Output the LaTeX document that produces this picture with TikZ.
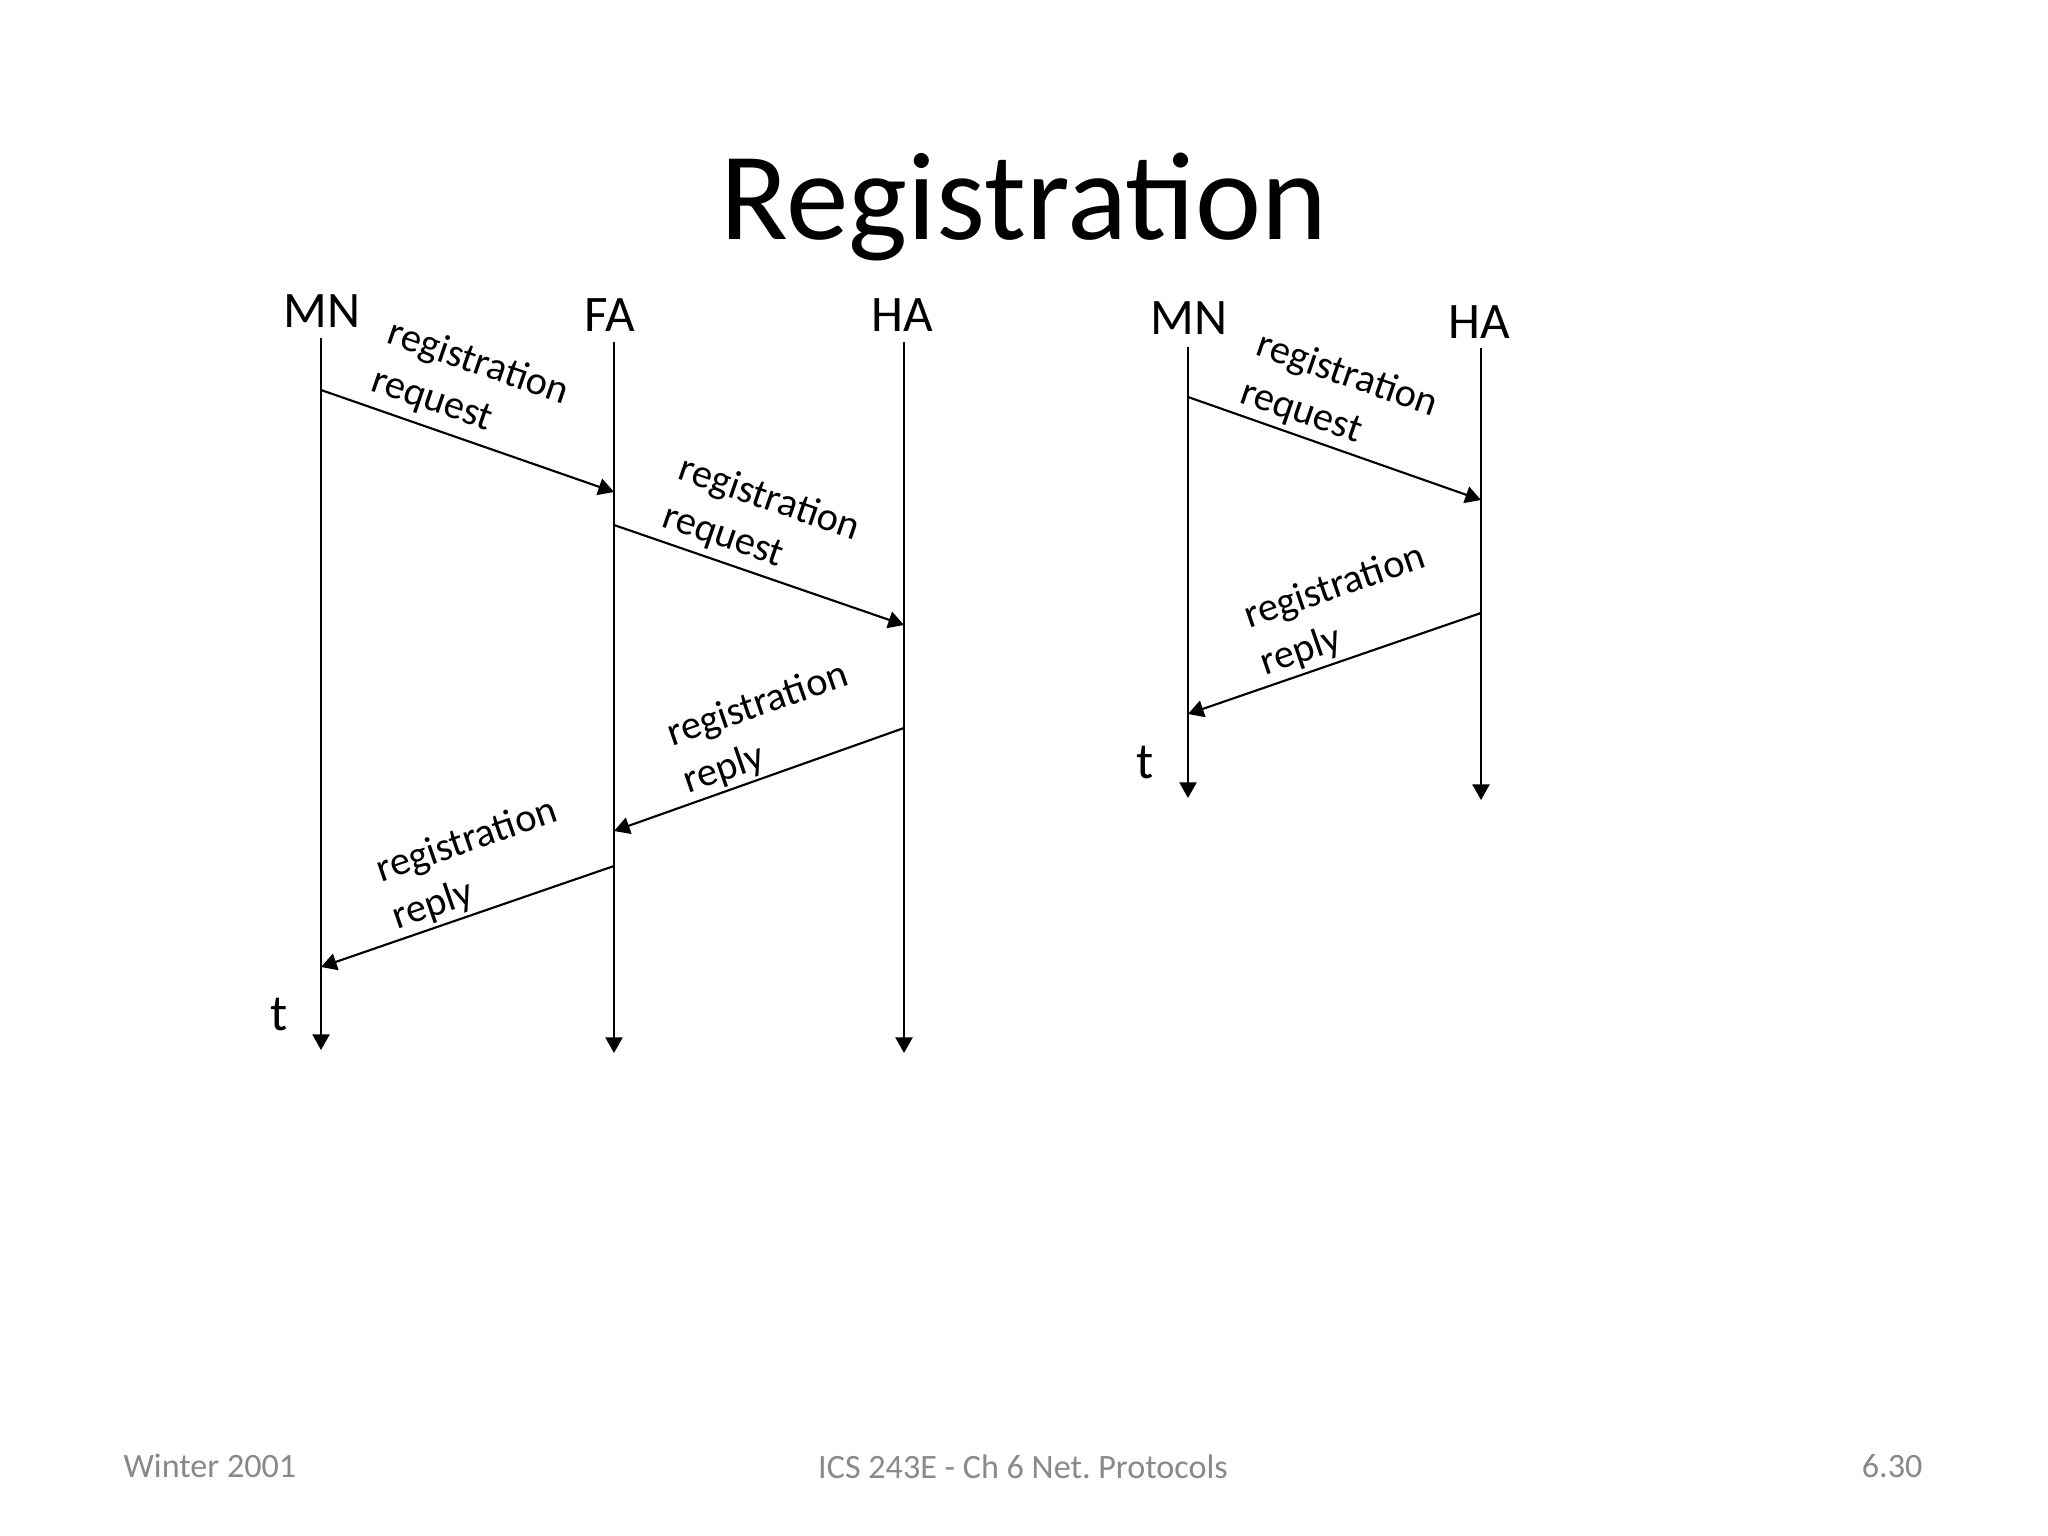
\documentclass[tikz,border=0pt]{standalone}
\usepackage{fontspec}
\setmainfont{Carlito}
\usetikzlibrary{arrows.meta}
\definecolor{footgray}{HTML}{898989}
\frenchspacing
\begin{document}
\begin{tikzpicture}[x=0.3515625pt,y=-0.3515625pt,
  tipped/.style={-{Triangle[width=6pt,length=5.5pt]}},
  life/.style={line width=0.75pt, tipped},
  msg/.style={line width=0.75pt, tipped},
  actor/.style={font=\fontsize{18}{22}\selectfont, inner sep=0pt, anchor=base},
  lbl/.style={font=\fontsize{14.2}{17.5}\selectfont, align=left, inner sep=0pt},
  foot/.style={font=\fontsize{12}{14}\selectfont, text=footgray, inner sep=0pt}]
\useasboundingbox[fill=white] (0,0) rectangle (2048,1536);

% title
\node[font=\fontsize{44}{50}\selectfont, anchor=base, inner sep=0pt] (title) at (1024,240) {Registration};

% actors
\node[actor] (mnA) at (322,328) {MN};
\node[actor] (faA) at (610,332) {FA};
\node[actor] (haA) at (902,332) {HA};
\node[actor] (mnB) at (1189,335) {MN};
\node[actor] (haB) at (1479,339) {HA};

% lifeline ends
\coordinate (mnAtop) at (321,338);  \coordinate (mnAbot) at (321,1050);
\coordinate (faAtop) at (614,342);  \coordinate (faAbot) at (614,1053);
\coordinate (haAtop) at (904,342);  \coordinate (haAbot) at (904,1053);
\coordinate (mnBtop) at (1188,347); \coordinate (mnBbot) at (1188,798);
\coordinate (haBtop) at (1481,348); \coordinate (haBbot) at (1481,800);

\draw[life] (mnAtop) -- (mnAbot);
\draw[life] (faAtop) -- (faAbot);
\draw[life] (haAtop) -- (haAbot);
\draw[life] (mnBtop) -- (mnBbot);
\draw[life] (haBtop) -- (haBbot);

% message end points
\coordinate (m1s) at (321,390);  \coordinate (m1e) at (614,492);
\coordinate (m2s) at (614,525);  \coordinate (m2e) at (904,625);
\coordinate (m3s) at (904,728);  \coordinate (m3e) at (614,831);
\coordinate (m4s) at (614,866);  \coordinate (m4e) at (321,967);
\coordinate (m5s) at (1188,397); \coordinate (m5e) at (1481,500);
\coordinate (m6s) at (1481,613); \coordinate (m6e) at (1188,714);

\draw[msg] (m1s) -- (m1e);
\draw[msg] (m2s) -- (m2e);
\draw[msg] (m3s) -- (m3e);
\draw[msg] (m4s) -- (m4e);
\draw[msg] (m5s) -- (m5e);
\draw[msg] (m6s) -- (m6e);

% message labels
\node[lbl, rotate=-19] (l1) at (470,387) {registration\\request};
\node[lbl, rotate=-19] (l2) at (761,523) {registration\\request};
\node[lbl, rotate=19]  (l3) at (766,729) {registration\\reply};
\node[lbl, rotate=19]  (l4) at (475,865) {registration\\reply};
\node[lbl, rotate=-19] (l5) at (1339,399) {registration\\request};
\node[lbl, rotate=19]  (l6) at (1343,611) {registration\\reply};

% time labels
\node[actor] (tA) at (279,1030) {t};
\node[actor] (tB) at (1145,778) {t};

% footer
\node[foot, anchor=base west] (f1) at (123,1477) {Winter 2001};
\node[foot, anchor=base] (f2) at (1023,1478) {ICS 243E - Ch 6 Net. Protocols};
\node[foot, anchor=base east] (f3) at (1923,1477) {6.30};
\end{tikzpicture}
\end{document}
